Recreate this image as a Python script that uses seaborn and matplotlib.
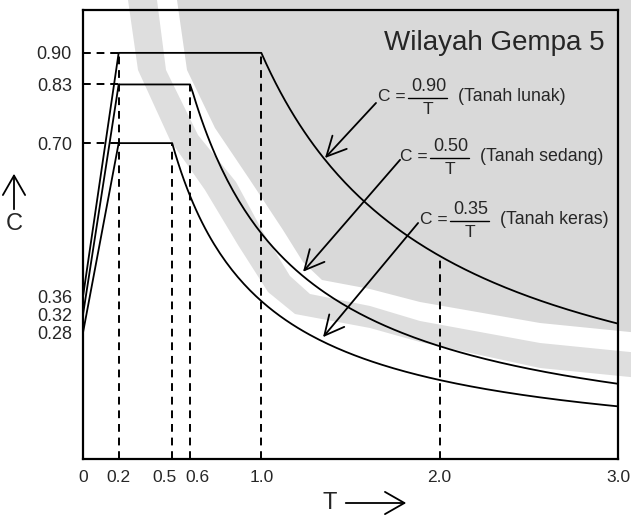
import numpy as np
import pandas as pd
import matplotlib
matplotlib.use("Agg")
import matplotlib.pyplot as plt
import matplotlib.transforms as mtransforms
import seaborn as sns
from matplotlib.patches import Polygon, FancyArrowPatch

# Design spectrum parameters, Wilayah Gempa 5
soil = ["Tanah lunak", "Tanah sedang", "Tanah keras"]
A0 = [0.36, 0.32, 0.28]          # C at T = 0
Am = [0.90, 0.83, 0.70]          # plateau value
Ar = [0.90, 0.50, 0.35]          # numerator of C = Ar / T
Tc = [1.0, 0.6, 0.5]             # corner period
T0 = 0.2                         # end of the rising branch
T_end = 3.0
T_guide = 2.0                    # extra guide line on the soft-soil curve

x_ticks = [0, 0.2, 0.5, 0.6, 1.0, 2.0, 3.0]
x_ticklabels = ["0", "0.2", "0.5", "0.6", "1.0", "2.0", "3.0"]
y_ticks = [0.28, 0.32, 0.36, 0.70, 0.83, 0.90]
y_ticklabels = ["0.28", "0.32", "0.36", "0.70", "0.83", "0.90"]

# label anchor (T, C) and arrow tail / tip (T, C) for each formula
label_pos = [(1.654, 0.803), (1.778, 0.670), (1.890, 0.530)]
arrow_from = [(1.643, 0.789), (1.778, 0.663), (1.879, 0.523)]
arrow_to = [(1.357, 0.667), (1.234, 0.415), (1.346, 0.270)]

sns.set_style("white")
plt.rcParams["font.family"] = ["Liberation Sans", "DejaVu Sans"]

W, H = 631, 519
fig = plt.figure(figsize=(W / 100, H / 100), dpi=100)
fig.patch.set_facecolor("white")


def fpts(pts):
    return [(x / W, 1 - y / H) for x, y in pts]


def closed(pts):
    return pts + [(700, pts[-1][1]), (700, -40), (pts[0][0], -40)]


# background seal: outer grey ring, white ring, grey disc
ring_outer = [(128, 0), (138, 70), (170, 140), (205, 190), (238, 245),
              (268, 292), (295, 314), (370, 328), (420, 342), (540, 368), (640, 378)]
white_outer = [(157, 0), (166, 70), (198, 135), (236, 182), (263, 232),
               (290, 276), (310, 294), (370, 306), (420, 321), (540, 343), (640, 353)]
disc_edge = [(177, 0), (187, 70), (215, 128), (250, 180), (283, 230),
             (303, 262), (322, 280), (370, 289), (420, 302), (540, 323), (640, 333)]
for pts, col in [(ring_outer, "#dedede"), (white_outer, "white"), (disc_edge, "#d9d9d9")]:
    fig.add_artist(Polygon(fpts(closed(pts)), closed=True, transform=fig.transFigure,
                           facecolor=col, edgecolor="none", zorder=-5))

ax = fig.add_axes([83 / W, 1 - 459 / H, 535 / W, 449 / H])
ax.patch.set_visible(False)

# spectrum curves
rows = []
for name, a0, am, ar, tc in zip(soil, A0, Am, Ar, Tc):
    t_tail = np.linspace(tc, T_end, 150)
    T = np.concatenate([[0.0, T0], t_tail])
    C = np.concatenate([[a0, am], ar / t_tail])
    C[2] = am
    rows.append(pd.DataFrame({"T": T, "C": C, "soil": name}))
df = pd.concat(rows, ignore_index=True)

sns.lineplot(data=df, x="T", y="C", units="soil", estimator=None, sort=False,
             color="black", lw=1.3, ax=ax, clip_on=False)

# dashed guides
dash = dict(color="black", lw=1.4, ls=(0, (4, 3)), zorder=1)
for am in Am:
    ax.plot([0, T0], [am, am], **dash)
ax.plot([T0, T0], [0, max(Am)], **dash)
for am, tc in zip(Am, Tc):
    ax.plot([tc, tc], [0, am], **dash)
ax.plot([T_guide, T_guide], [0, Ar[0] / T_guide], **dash)

ax.set_xlim(0, T_end)
ax.set_ylim(0, 0.995)
ax.set_xticks(x_ticks)
ax.set_xticklabels(x_ticklabels)
ax.set_yticks(y_ticks)
ax.set_yticklabels(y_ticklabels)
ax.set_xlabel("")
ax.set_ylabel("")
ax.tick_params(axis="y", direction="out", length=3, width=1.5, pad=5, labelsize=13)
ax.tick_params(axis="x", direction="in", length=3, width=1.0, pad=8, labelsize=12.5)
for sp in ax.spines.values():
    sp.set_visible(True)
    sp.set_linewidth(1.6)
    sp.set_color("black")

# nudge the crowded 0.5 / 0.6 labels apart
for lab, dx in zip(ax.get_xticklabels(), [0, 0, -8, 7, 0, 0, 0]):
    if dx:
        lab.set_transform(lab.get_transform() +
                          mtransforms.ScaledTranslation(dx / 100, 0, fig.dpi_scale_trans))


def shifted(x, y, dx, dy):
    """Data point shifted by (dx, dy) screen pixels (dy downward)."""
    px, py = ax.transData.transform((x, y))
    return ax.transData.inverted().transform((px + dx, py - dy))


# formula labels  C = Ar / T  (soil)  with arrows
fs = 12.5
for name, ar, (lx, ly), (fx, fy), (tx, ty) in zip(soil, Ar, label_pos, arrow_from, arrow_to):
    ax.text(lx, ly, "C =", fontsize=fs, ha="left", va="center")
    nx, ny = shifted(lx, ly, 51, -10)
    ax.text(nx, ny, "%.2f" % ar, fontsize=fs + 0.5, ha="center", va="center")
    b0 = shifted(lx, ly, 30, 1)
    b1 = shifted(lx, ly, 69, 1)
    ax.plot([b0[0], b1[0]], [b0[1], b1[1]], color="black", lw=1.0)
    dx_, dy_ = shifted(lx, ly, 50, 13)
    ax.text(dx_, dy_, "T", fontsize=fs, ha="center", va="center")
    px_, py_ = shifted(lx, ly, 80, 0)
    ax.text(px_, py_, "(%s)" % name, fontsize=fs + 0.3, ha="left", va="center")
    ax.annotate("", xy=(tx, ty), xytext=(fx, fy),
                arrowprops=dict(arrowstyle="->,head_length=0.7,head_width=0.35",
                                mutation_scale=20, lw=1.3, color="black",
                                shrinkA=0, shrinkB=0))

fig.text(605 / W, 1 - 43 / H, "Wilayah Gempa 5", fontsize=20, ha="right", va="center")

# axis captions with arrows
fig.text(14 / W, 1 - 224 / H, "C", fontsize=17, ha="center", va="center")
fig.add_artist(FancyArrowPatch(
    (14 / W, 1 - 212 / H), (14 / W, 1 - 171 / H), transform=fig.transFigure,
    arrowstyle="->,head_length=0.7,head_width=0.4", mutation_scale=20, lw=1.3, color="black"))
fig.text(330 / W, 1 - 503 / H, "T", fontsize=17, ha="center", va="center")
fig.add_artist(FancyArrowPatch(
    (343 / W, 1 - 503 / H), (409 / W, 1 - 503 / H), transform=fig.transFigure,
    arrowstyle="->,head_length=0.7,head_width=0.4", mutation_scale=20, lw=1.3, color="black"))

fig.savefig("out.png", dpi=100)
